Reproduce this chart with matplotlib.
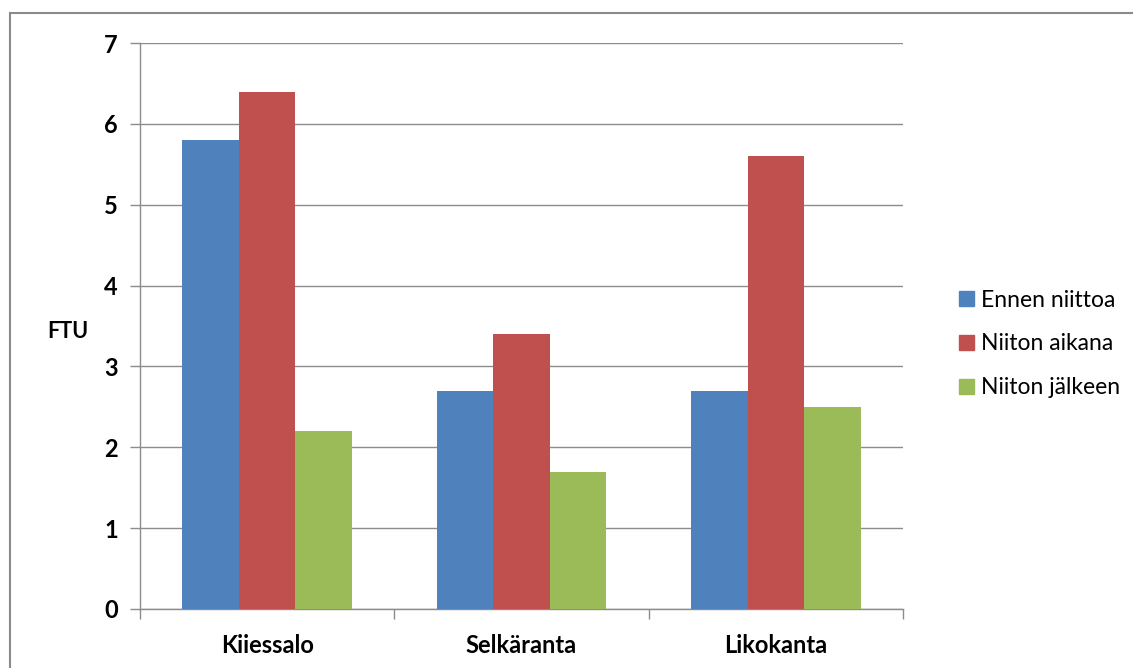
import numpy as np
import matplotlib.pyplot as plt
from matplotlib.patches import Rectangle, Patch

# FTU readings per site
sites = ['Kiiessalo', 'Selkäranta', 'Likokanta']
series_names = ['Ennen niittoa', 'Niiton aikana', 'Niiton jälkeen']
ennen = [5.8, 2.7, 2.7]
aikana = [6.4, 3.4, 5.6]
jalkeen = [2.2, 1.7, 2.5]
colors = ['#4F81BD', '#C0504D', '#9BBB59']

plt.rcParams['font.family'] = ['Lato', 'DejaVu Sans']
grid_col = '#8c8c8c'

fig = plt.figure(figsize=(11.33, 6.68), dpi=100)
ax = fig.add_axes([140 / 1133, 1 - 609 / 668, (903 - 140) / 1133, (609 - 43) / 668])

# outer chart frame
fig.patches.append(Rectangle((10 / 1133, -0.1), 1.2, 1 - 13 / 668 + 0.1,
                             transform=fig.transFigure, fill=False,
                             edgecolor='#8a8a8a', linewidth=1.5))

x = np.arange(len(sites))
w = 1 / 4.5
for i, vals in enumerate([ennen, aikana, jalkeen]):
    ax.bar(x + (i - 1) * w, vals, w, color=colors[i], label=series_names[i], zorder=3)

ax.set_xlim(-0.5, 2.5)
ax.set_ylim(0, 7)
ax.set_yticks(range(8))
ax.yaxis.grid(True, color=grid_col, linewidth=1, zorder=0)
ax.set_xticks(x)
ax.set_xticklabels(sites, fontsize=17, fontweight='bold')
ax.set_xticks(np.arange(-0.5, 3, 1), minor=True)
ax.tick_params(axis='x', which='major', length=0, pad=18)
ax.tick_params(axis='x', which='minor', length=7, color=grid_col, width=1)
ax.tick_params(axis='y', length=7, color=grid_col, width=1, pad=9, labelsize=17)
for lab in ax.get_yticklabels():
    lab.set_fontweight('bold')

for side in ['top', 'right']:
    ax.spines[side].set_visible(False)
for side in ['left', 'bottom']:
    ax.spines[side].set_color(grid_col)
    ax.spines[side].set_linewidth(1)

fig.text(68 / 1133, 1 - 332 / 668, 'FTU', fontsize=15.5, fontweight='bold',
         ha='center', va='center')

handles = [Patch(color=c) for c in colors]
fig.legend(handles, series_names, loc='center left',
           bbox_to_anchor=(938 / 1133, 1 - 344 / 668), frameon=False,
           fontsize=16.5, handlelength=0.66, handleheight=0.66,
           handletextpad=0.3, labelspacing=1.0)

fig.savefig('out.png', dpi=100)
